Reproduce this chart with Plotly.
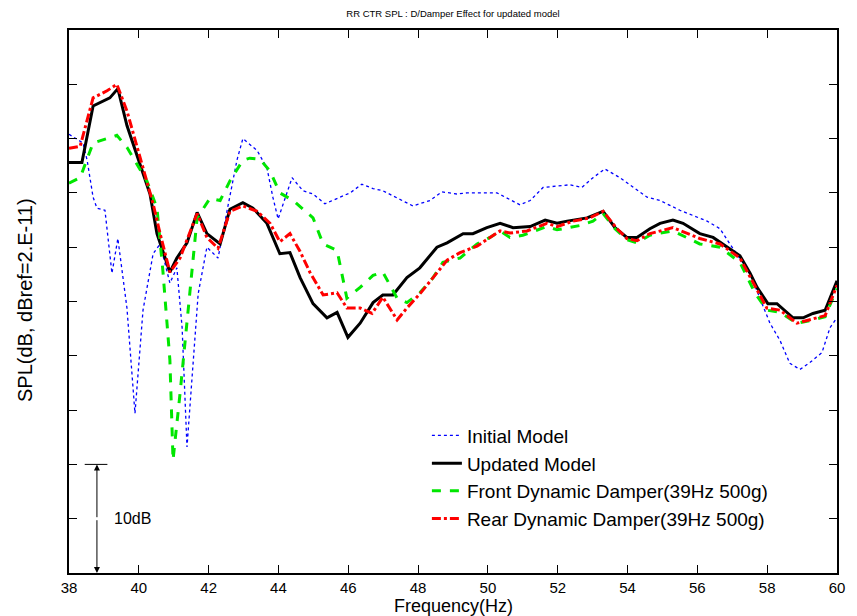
import plotly.graph_objects as go

# Frequency (Hz) / SPL (dB) samples for each model
initial_f = [38.0, 38.40, 38.52, 38.69, 38.80, 39.03, 39.23, 39.40, 39.66, 39.89, 40.12, 40.41, 40.61,
             40.89, 41.09, 41.24, 41.38, 41.52, 41.70, 41.95, 42.27, 42.53, 42.81, 42.98, 43.39, 43.67,
             43.84, 43.99, 44.39, 44.70, 44.99, 45.33, 45.68, 46.05, 46.39, 46.71, 46.99, 47.40, 47.85,
             48.34, 48.68, 49.11, 49.40, 50.26, 50.55, 50.92, 51.21, 51.58, 52.35, 52.69, 53.01, 53.35,
             53.78, 54.16, 54.56, 54.93, 55.50, 56.28, 56.65, 56.93, 57.22, 57.51, 57.79, 58.08, 58.37,
             58.65, 58.94, 59.23, 59.57, 59.80, 60.0]
initial_db = [40.4, 39.6, 38.0, 34.6, 33.6, 33.4, 27.6, 30.8, 24.4, 14.7, 24.2, 29.4, 30.3,
              26.7, 28.1, 22.6, 11.6, 18.0, 25.7, 30.0, 29.0, 33.4, 38.0, 40.0, 38.9, 37.3,
              34.6, 32.6, 36.4, 35.2, 34.9, 34.0, 34.5, 35.0, 35.8, 35.4, 35.2, 34.5, 33.8,
              34.3, 35.1, 34.9, 35.0, 35.0, 34.5, 33.9, 34.3, 35.5, 35.75, 35.5, 36.4, 37.2,
              36.4, 35.5, 34.6, 34.3, 33.4, 32.4, 31.7, 30.3, 29.0, 27.6, 25.3, 23.0, 21.4,
              19.3, 18.75, 19.4, 20.3, 22.6, 23.5]

updated_f = [38.0, 38.37, 38.69, 39.17, 39.40, 39.66, 40.32, 40.52, 40.89, 41.09, 41.38, 41.67, 41.95,
             42.33, 42.61, 42.98, 43.27, 43.67, 44.04, 44.33, 44.62, 44.99, 45.39, 45.68, 45.99, 46.34,
             46.71, 46.99, 47.28, 47.68, 48.05, 48.54, 48.83, 49.29, 49.57, 49.97, 50.35, 50.72, 51.21,
             51.64, 51.98, 52.27, 52.84, 53.30, 53.64, 53.98, 54.27, 54.64, 54.93, 55.30, 55.59, 56.07,
             56.45, 56.85, 57.22, 57.51, 57.71, 58.02, 58.28, 58.74, 59.03, 59.31, 59.66, 60.0]
updated_db = [37.8, 37.8, 43.0, 43.75, 44.6, 41.2, 34.9, 31.25, 27.7, 29.0, 30.4, 33.2, 31.25,
              30.3, 33.5, 34.1, 33.6, 32.2, 29.4, 29.5, 27.2, 24.8, 23.5, 24.0, 21.7, 23.0,
              24.9, 25.6, 25.6, 27.2, 28.1, 30.0, 30.4, 31.25, 31.25, 31.8, 32.2, 31.8, 31.9,
              32.5, 32.2, 32.4, 32.7, 33.3, 31.8, 30.9, 30.9, 31.7, 32.2, 32.5, 32.2, 31.25,
              30.9, 30.0, 29.2, 27.6, 26.3, 24.8, 24.8, 23.5, 23.5, 23.9, 24.2, 26.9]

front_f = [38.0, 38.32, 38.69, 39.17, 39.37, 39.66, 40.23, 40.52, 40.69, 40.89, 40.98, 41.18, 41.47,
           41.67, 42.04, 42.33, 42.61, 42.98, 43.18, 43.47, 43.76, 44.04, 44.42, 44.99, 45.28, 45.68,
           45.96, 46.34, 46.71, 46.99, 47.40, 47.68, 48.05, 48.43, 48.71, 49.20, 49.69, 50.06, 50.35,
           50.63, 51.00, 51.69, 51.98, 52.64, 53.01, 53.30, 53.64, 53.98, 54.27, 54.64, 54.93, 55.30,
           56.07, 56.65, 57.22, 57.65, 57.99, 58.37, 58.85, 59.31, 59.66, 60.0]
front_db = [35.9, 36.4, 39.6, 40.1, 40.3, 39.2, 36.1, 33.6, 27.8, 19.6, 10.4, 16.5, 25.7,
            32.7, 34.5, 34.3, 36.1, 38.0, 38.2, 38.1, 37.0, 35.0, 34.3, 32.7, 30.3, 29.7,
            25.3, 26.3, 27.4, 27.7, 25.3, 24.9, 25.8, 27.2, 28.6, 29.0, 30.3, 30.9, 31.5,
            30.9, 31.1, 31.9, 31.6, 32.0, 32.4, 33.1, 31.7, 30.7, 30.4, 31.1, 31.3, 31.5,
            30.3, 30.0, 28.6, 25.8, 24.2, 24.0, 23.0, 23.3, 23.6, 26.2]

rear_f = [38.0, 38.32, 38.69, 39.09, 39.37, 39.66, 40.41, 40.61, 40.89, 41.18, 41.67, 41.95, 42.27,
          42.61, 42.98, 43.39, 43.76, 44.04, 44.33, 44.62, 44.90, 45.28, 45.68, 45.96, 46.34, 46.68,
          46.99, 47.40, 47.68, 48.05, 48.43, 48.83, 49.20, 49.69, 50.06, 50.35, 50.63, 51.12, 51.69,
          51.98, 52.44, 52.92, 53.30, 53.70, 53.98, 54.27, 54.64, 54.93, 55.30, 56.07, 56.65, 57.22,
          57.71, 57.99, 58.37, 58.85, 59.31, 59.66, 60.0]
rear_db = [39.1, 39.3, 43.75, 44.4, 45.0, 42.55, 34.0, 31.25, 27.7, 29.0, 33.1, 30.9, 29.9,
           33.3, 33.8, 33.3, 32.2, 30.5, 31.25, 29.6, 27.7, 25.6, 25.8, 24.4, 24.4, 23.9,
           25.4, 23.3, 24.4, 25.7, 27.2, 28.8, 29.5, 30.1, 30.9, 31.5, 31.3, 31.5, 32.2,
           31.9, 32.4, 32.7, 33.3, 31.7, 30.8, 30.6, 31.25, 31.5, 31.8, 30.8, 30.3, 29.0,
           26.0, 24.4, 24.2, 23.0, 23.4, 23.7, 26.5]

x_ticks = [38, 40, 42, 44, 46, 48, 50, 52, 54, 56, 58, 60]
y_ticks = [0, 5, 10, 15, 20, 25, 30, 35, 40, 45, 50]
scale_db = 10  # height of the reference bar

FONT = "Liberation Sans, Arial, Helvetica, sans-serif"

fig = go.Figure()
series = [
    ("Initial Model", initial_f, initial_db, "#0000ff", 1.3, "dot"),
    ("Updated Model", updated_f, updated_db, "#000000", 3, "solid"),
    ("Front Dynamic Damper(39Hz 500g)", front_f, front_db, "#00e600", 3, "dash"),
    ("Rear Dynamic Damper(39Hz 500g)", rear_f, rear_db, "#ff0000", 3, "dashdot"),
]
for name, fx, fy, col, w, dash in series:
    fig.add_trace(go.Scatter(
        x=fx, y=fy, mode="lines", name=name,
        line=dict(color=col, width=w, dash=dash),
    ))

# 10 dB reference bar with arrows at both ends
bar_x = 38.8
fig.add_shape(type="line", xref="x", yref="y", x0=38.45, x1=39.1, y0=scale_db, y1=scale_db,
              line=dict(color="black", width=1))
for head, tail in [(scale_db, scale_db / 2), (0, scale_db / 2)]:
    fig.add_annotation(x=bar_x, y=head, ax=bar_x, ay=tail, xref="x", yref="y",
                       axref="x", ayref="y", text="", showarrow=True,
                       arrowhead=2, arrowsize=1.2, arrowwidth=1, arrowcolor="black")
fig.add_annotation(x=39.83, y=scale_db / 2, xref="x", yref="y", text="10dB", showarrow=False,
                   font=dict(family=FONT, size=16, color="black"))

# Axis titles
fig.add_annotation(x=0.5, y=-33 / 543, xref="paper", yref="paper", yanchor="middle",
                   text="Frequency(Hz)", showarrow=False,
                   font=dict(family=FONT, size=18, color="black"))
fig.add_annotation(x=(25 - 69) / 768, y=(573 - 300) / 543, xref="paper", yref="paper",
                   text="SPL(dB, dBref=2.E-11)", textangle=-90, showarrow=False,
                   xanchor="center", yanchor="middle",
                   font=dict(family=FONT, size=20, color="black"))

fig.update_layout(
    width=857, height=616,
    margin=dict(l=69, r=20, t=30, b=43),
    paper_bgcolor="white", plot_bgcolor="white",
    title=dict(text="RR CTR SPL : D/Damper Effect for updated model",
               font=dict(family=FONT, size=9.5, color="black"),
               x=453 / 857, xanchor="center", y=1 - 14 / 616, yanchor="middle"),
    showlegend=True,
    legend=dict(x=0.466, y=0.288, xanchor="left", yanchor="top", bgcolor="rgba(0,0,0,0)",
                font=dict(family=FONT, size=19, color="black"), itemwidth=30),
)

fig.update_xaxes(range=[38, 60], tickvals=x_ticks, ticktext=[str(t) for t in x_ticks],
                 ticks="inside", ticklen=8, tickwidth=1, tickcolor="black",
                 showline=True, linecolor="black", linewidth=1.5, mirror="ticks",
                 showgrid=False, zeroline=False,
                 tickfont=dict(family=FONT, size=15, color="black"))
fig.update_yaxes(range=[0, 50], tickvals=y_ticks, ticktext=["" for _ in y_ticks],
                 ticks="inside", ticklen=8, tickwidth=1, tickcolor="black",
                 showline=True, linecolor="black", linewidth=1.5, mirror="ticks",
                 showgrid=False, zeroline=False)

fig.write_html("out.html")
